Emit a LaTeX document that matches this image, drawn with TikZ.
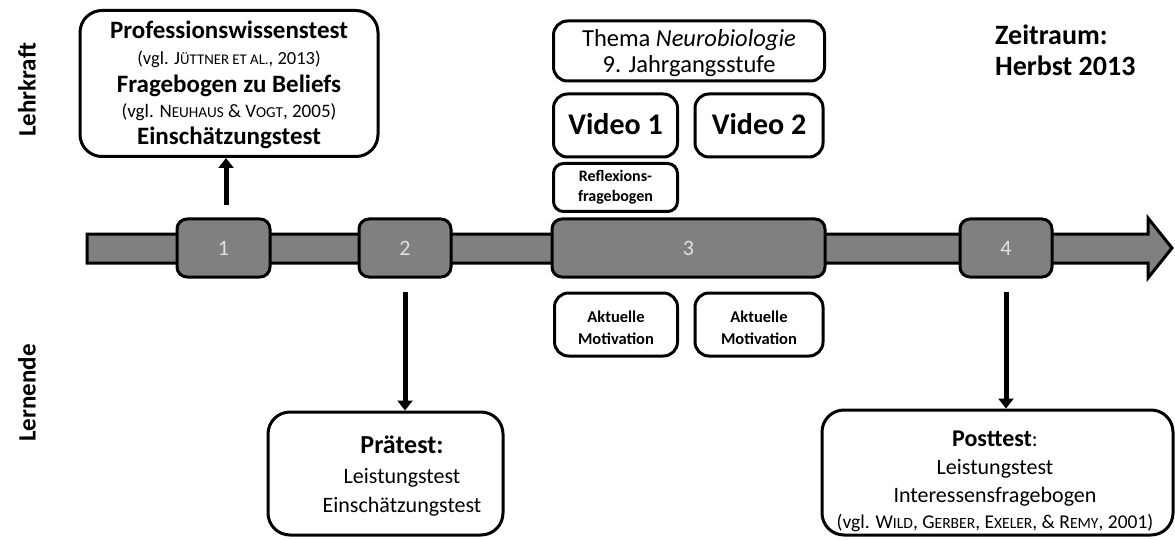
\documentclass[tikz,border=0pt]{standalone}
\usepackage{fontspec}
\setmainfont{Carlito}
\usetikzlibrary{arrows.meta}
\newcommand\fsz[1]{\fontsize{#1}{#1}\selectfont}
\newcommand\smc[1]{\scalebox{0.8}{#1}}
\definecolor{bargrey}{RGB}{128,128,128}
\definecolor{numgrey}{RGB}{225,225,225}
\tikzset{
  wbox/.style={draw=black, line width=3pt, fill=white, rounded corners=14pt, inner sep=0pt},
  gbox/.style={draw=black, line width=3pt, fill=bargrey, rounded corners=10pt, inner sep=0pt,
               minimum height=58pt, text=numgrey, font=\fsz{22}},
  txt/.style={inner sep=0pt, anchor=base},
  vline/.style={line width=5pt, -{Triangle[width=15pt,length=10pt]}},
  side/.style={rotate=90, inner sep=0pt, font=\bfseries\fsz{25}}
}
\begin{document}
\begin{tikzpicture}[x=1pt,y=-1pt]
\useasboundingbox (0,0) rectangle (1175,540);
% side labels
\node[side] (lehr) at (27,90) {Lehrkraft};
\node[side] (lern) at (27,393) {Lernende};
% main arrow
\draw[line width=3pt, fill=bargrey, line join=miter]
  (87,234) -- (1148,234) -- (1148,218) -- (1172,248) -- (1148,278) -- (1148,263) -- (87,263) -- cycle;
\node[gbox, minimum width=93pt] (p1) at (223.5,248) {1};
\node[gbox, minimum width=92pt] (p2) at (405,248) {2};
\node[gbox, minimum width=273pt] (p3) at (688.5,248) {3};
\node[gbox, minimum width=92pt] (p4) at (1006,248) {4};
% top-left box
\node[wbox, rounded corners=22pt, minimum width=298pt, minimum height=146pt] (prof) at (229,83.5) {};
\node[txt, font=\bfseries\fsz{25}] (t1) at (229,39) {Professionswissenstest};
\node[txt, font=\fsz{18.5}] (t2) at (229,65) {(vgl. J\smc{ÜTTNER ET AL.}, 2013)};
\node[txt, font=\bfseries\fsz{25}] (t3) at (229,93) {Fragebogen zu Beliefs};
\node[txt, font=\fsz{19}] (t4) at (229,118) {(vgl. N\smc{EUHAUS} \& V\smc{OGT}, 2005)};
\node[txt, font=\bfseries\fsz{25}] (t5) at (229,145) {Einschätzungstest};
\coordinate (a1s) at (226,205);
\draw[vline] (a1s) -- (prof.south -| a1s);
% Thema box
\node[wbox, minimum width=271pt, minimum height=60pt] (thema) at (689,51) {};
\node[txt, font=\fsz{24.5}] (th1) at (689,47) {Thema \textit{Neurobiologie}};
\node[txt, font=\fsz{24.5}] (th2) at (689,73) {9. Jahrgangsstufe};
% videos
\node[wbox, minimum width=124pt, minimum height=63pt] (v1) at (615.5,125.5) {};
\node[txt, font=\bfseries\fsz{30}] (v1t) at (615.5,135) {Video 1};
\node[wbox, minimum width=128pt, minimum height=63pt] (v2) at (759,125.5) {};
\node[txt, font=\bfseries\fsz{30}] (v2t) at (759,135) {Video 2};
% Reflexions
\node[wbox, rounded corners=10pt, minimum width=124pt, minimum height=48pt] (refl) at (615.5,187.5) {};
\node[txt, font=\bfseries\fsz{16}] (r1) at (615.5,182) {Reflexions-};
\node[txt, font=\bfseries\fsz{16}] (r2) at (615.5,202) {fragebogen};
% motivation
\node[wbox, minimum width=123pt, minimum height=63pt] (m1) at (616,324.5) {};
\node[txt, font=\bfseries\fsz{16.5}] (m1a) at (616,322) {Aktuelle};
\node[txt, font=\bfseries\fsz{16.5}] (m1b) at (616,344) {Motivation};
\node[wbox, minimum width=128pt, minimum height=63pt] (m2) at (759,324.5) {};
\node[txt, font=\bfseries\fsz{16.5}] (m2a) at (759,322) {Aktuelle};
\node[txt, font=\bfseries\fsz{16.5}] (m2b) at (759,344) {Motivation};
% Praetest
\node[wbox, rounded corners=22pt, minimum width=235pt, minimum height=123pt] (prae) at (385.5,473.5) {};
\node[txt, font=\fsz{22}] (pr1) at (402,453) {\textbf{\fsz{26}Prätest:}};
\node[txt, font=\fsz{22}] (pr2) at (402,483) {Leistungstest};
\node[txt, font=\fsz{22}] (pr3) at (402,512) {Einschätzungstest};
\draw[vline] (p2.south |- 0,292) -- (prae.north -| p2.south);
% Posttest
\node[wbox, rounded corners=22pt, minimum width=351pt, minimum height=125pt] (post) at (997.5,472.5) {};
\node[txt, font=\fsz{22}] (po1) at (995,446) {\textbf{\fsz{24}Posttest}:};
\node[txt, font=\fsz{22}] (po2) at (995,474) {Leistungstest};
\node[txt, font=\fsz{22}] (po3) at (995,502) {Interessensfragebogen};
\node[txt, font=\fsz{19.5}] (po4) at (995,528) {(vgl. W\smc{ILD}, G\smc{ERBER}, E\smc{XELER}, \& R\smc{EMY}, 2001)};
\draw[vline] (p4.south |- 0,292) -- (post.north -| p4.south);
% Zeitraum
\node[inner sep=0pt, anchor=base west, font=\bfseries\fsz{28}] (zeit1) at (995,45) {Zeitraum:};
\node[inner sep=0pt, anchor=base west, font=\bfseries\fsz{28}] (zeit2) at (995,76) {Herbst 2013};
\end{tikzpicture}
\end{document}
